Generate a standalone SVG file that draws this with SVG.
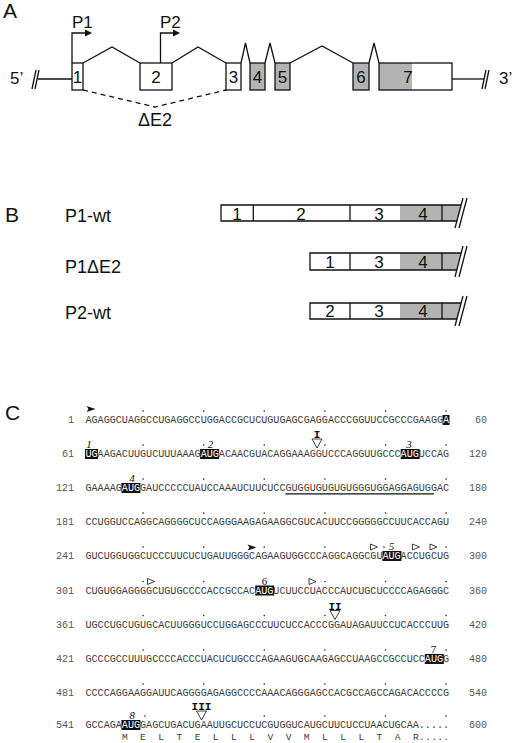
<svg xmlns="http://www.w3.org/2000/svg" width="520" height="743" viewBox="0 0 520 743">
<style>
.lbl{font-family:"Liberation Sans",Arial,sans-serif;fill:#111}
.pan{font-size:21px}
.ex{fill:#fff;stroke:#111;stroke-width:1.3}
.exg{fill:#b3b3b3;stroke:#111;stroke-width:1.3}
.ln{fill:none;stroke:#111;stroke-width:1.3}
.num{font-family:"Liberation Sans",Arial,sans-serif;font-size:17px;fill:#111;text-anchor:middle}
.seq{font-family:"Liberation Mono","Courier New",monospace;font-size:10.1px;fill:#3c3c3c}
.pos{font-family:"Liberation Mono","Courier New",monospace;font-size:10px;fill:#555;text-anchor:end}
.hl{fill:#fff}
.box{fill:#111}
.aug{font-family:"Liberation Serif","Times New Roman",serif;font-size:11px;font-style:italic;fill:#111;text-anchor:middle}
.aug2{font-family:"Liberation Serif","Times New Roman",serif;font-size:11px;fill:#111;text-anchor:middle}
.rom{font-family:"Liberation Mono","Courier New",monospace;font-size:11px;font-weight:bold;fill:#111;text-anchor:middle}
.dot{fill:#333}
.otri{fill:#fff;stroke:#111;stroke-width:0.8}
.ftri{fill:#111}
</style>
<defs>
<rect id="d" class="dot" x="-0.7" y="-0.7" width="1.4" height="1.4"/>
<polygon id="ot" class="otri" points="-3.5,-3 3.5,0 -3.5,3"/>
<polygon id="ft" class="ftri" points="-4.5,-3 4.5,0 -4.5,3 -2.5,0"/>
<polygon id="dt" class="otri" points="-5,0 5,0 0,9"/>
</defs>

<!-- Panel A -->
<text class="lbl pan" x="3" y="18">A</text>
<g id="connectors">
  <polyline class="ln" points="83,63 112,47 140,63"/>
  <polyline class="ln" points="172,63 198,47 226,63"/>
  <polyline class="ln" points="241,63 245.5,43 250,63"/>
  <polyline class="ln" points="265,63 270,43 275,63"/>
  <polyline class="ln" points="290,63 322,46 353,63"/>
  <polyline class="ln" points="369,63 374,43 379,63"/>
  <polyline class="ln" points="83,90 155,107 226,90" stroke-dasharray="5,4"/>
  <line class="ln" x1="38" y1="79" x2="72" y2="79"/>
  <line class="ln" x1="452" y1="79" x2="484" y2="79"/>
  <line class="ln" x1="32" y1="89" x2="36" y2="70"/>
  <line class="ln" x1="35" y1="89" x2="39" y2="70"/>
  <line class="ln" x1="482" y1="89" x2="486" y2="70"/>
  <line class="ln" x1="485" y1="89" x2="489" y2="70"/>
  <path class="ln" d="M72,63 V33 H86"/>
  <polygon points="85,29.5 92,33 85,36.5" fill="#111"/>
  <path class="ln" d="M160.5,63 V33 H174"/>
  <polygon points="173,29.5 180,33 173,36.5" fill="#111"/>
</g>
<text class="lbl" x="72" y="28" font-size="17">P1</text>
<text class="lbl" x="160" y="28" font-size="17">P2</text>
<text class="lbl" x="10" y="84" font-size="17">5’</text>
<text class="lbl" x="499" y="84" font-size="17">3’</text>
<text class="lbl" x="155" y="126" font-size="18" text-anchor="middle">ΔE2</text>
<g id="exon1"><rect class="ex" x="72" y="63" width="11" height="27"/><text class="num" x="77.5" y="83">1</text></g>
<g id="exon2"><rect class="ex" x="140" y="63" width="32" height="27"/><text class="num" x="156" y="83">2</text></g>
<g id="exon3"><rect class="ex" x="226" y="63" width="15" height="27"/><text class="num" x="233.5" y="83">3</text></g>
<g id="exon4"><rect class="exg" x="250" y="63" width="15" height="27"/><text class="num" x="257.5" y="83">4</text></g>
<g id="exon5"><rect class="exg" x="275" y="63" width="15" height="27"/><text class="num" x="282.5" y="83">5</text></g>
<g id="exon6"><rect class="exg" x="353" y="63" width="16" height="27"/><text class="num" x="361" y="83">6</text></g>
<g id="exon7"><rect x="379" y="63" width="33" height="27" fill="#b3b3b3"/><rect class="ln" x="379" y="63" width="73" height="27"/><text class="num" x="408" y="83">7</text></g>

<!-- Panel B -->
<text class="lbl pan" x="5" y="222">B</text>
<g id="p1wt">
  <text class="lbl" x="65" y="222" font-size="18">P1-wt</text>
  <polygon points="400,205 461,205 457,221 400,221" fill="#b3b3b3"/>
  <path class="ln" d="M461,205 H221 V221 H457"/>
  <line class="ln" x1="253.3" y1="205" x2="253.3" y2="221"/>
  <line class="ln" x1="350" y1="205" x2="350" y2="221"/>
  <line class="ln" x1="442" y1="205" x2="442" y2="221"/>
  <line class="ln" x1="463" y1="198" x2="455" y2="228"/>
  <line class="ln" x1="467" y1="198" x2="459" y2="228"/>
  <text class="num" x="237" y="220">1</text><text class="num" x="301" y="220">2</text><text class="num" x="379" y="220">3</text><text class="num" x="423" y="220">4</text>
</g>
<g id="p1de2">
  <text class="lbl" x="65" y="273" font-size="18">P1ΔE2</text>
  <polygon points="400,253 461,253 457,270 400,270" fill="#b3b3b3"/>
  <path class="ln" d="M461,253 H310 V270 H457"/>
  <line class="ln" x1="350" y1="253" x2="350" y2="270"/>
  <line class="ln" x1="442" y1="253" x2="442" y2="270"/>
  <line class="ln" x1="463" y1="246" x2="455" y2="277"/>
  <line class="ln" x1="467" y1="246" x2="459" y2="277"/>
  <text class="num" x="330" y="268">1</text><text class="num" x="379" y="268">3</text><text class="num" x="423" y="268">4</text>
</g>
<g id="p2wt">
  <text class="lbl" x="65" y="319" font-size="18">P2-wt</text>
  <polygon points="400,303 461,303 457,319 400,319" fill="#b3b3b3"/>
  <path class="ln" d="M461,303 H310 V319 H457"/>
  <line class="ln" x1="350" y1="303" x2="350" y2="319"/>
  <line class="ln" x1="442" y1="303" x2="442" y2="319"/>
  <line class="ln" x1="463" y1="296" x2="455" y2="326"/>
  <line class="ln" x1="467" y1="296" x2="459" y2="326"/>
  <text class="num" x="330" y="317">2</text><text class="num" x="379" y="317">3</text><text class="num" x="423" y="317">4</text>
</g>

<!-- Panel C -->
<text class="lbl pan" x="5" y="420">C</text>
<g id="sequence">
  <!-- AUG boxes -->
  <rect class="box" x="442.5" y="415" width="7" height="10"/>
  <rect class="box" x="85" y="449" width="13" height="10"/>
  <rect class="box" x="200.1" y="449" width="19" height="10"/>
  <rect class="box" x="400.7" y="449" width="19" height="10"/>
  <rect class="box" x="121.4" y="483" width="19" height="10"/>
  <rect class="box" x="382.4" y="551" width="19" height="10"/>
  <rect class="box" x="255.2" y="585.5" width="19" height="10"/>
  <rect class="box" x="424.8" y="654" width="19" height="10"/>
  <rect class="box" x="121.4" y="720" width="19" height="10"/>
  <line class="ln" stroke-width="1" x1="285.5" y1="493.8" x2="434" y2="493.8"/>

  <g class="pos">
    <text x="74" y="423">1</text><text x="74" y="457">61</text><text x="74" y="491">121</text><text x="74" y="525">181</text><text x="74" y="559">241</text>
    <text x="74" y="593.5">301</text><text x="74" y="627.5">361</text><text x="74" y="662">421</text><text x="74" y="696">481</text><text x="74" y="728">541</text>
    <text x="487" y="423">60</text><text x="487" y="457">120</text><text x="487" y="491">180</text><text x="487" y="525">240</text><text x="487" y="559">300</text>
    <text x="487" y="593.5">360</text><text x="487" y="627.5">420</text><text x="487" y="662">480</text><text x="487" y="696">540</text><text x="487" y="728">600</text>
  </g>
  <g class="seq">
    <text x="85.5" y="423" textLength="363.6" lengthAdjust="spacing">AGAGGCUAGGCCUGAGGCCUGGACCGCUCUGUGAGCGAGGACCCGGUUCCGCCCGAAGG<tspan class="hl">A</tspan></text>
    <text x="85.5" y="457" textLength="363.6" lengthAdjust="spacing"><tspan class="hl">UG</tspan>AAGACUUGUCUUUAAAG<tspan class="hl">AUG</tspan>ACAACGUACAGGAAAGGUCCCAGGUUGCCC<tspan class="hl">AUG</tspan>UCCAG</text>
    <text x="85.5" y="491" textLength="363.6" lengthAdjust="spacing">GAAAAG<tspan class="hl">AUG</tspan>GAUCCCCCUAUCCAAAUCUUCUCCGUGGUGUGUGUGGGUGGAGGAGUGGAC</text>
    <text x="85.5" y="525" textLength="363.6" lengthAdjust="spacing">CCUGGUCCAGGCAGGGGCUCCAGGGAAGAGAAGGCGUCACUUCCGGGGGCCUUCACCAGU</text>
    <text x="85.5" y="559" textLength="363.6" lengthAdjust="spacing">GUCUGGUGGCUCCCUUCUCUGAUUGGGCAGAAGUGGCCCAGGCAGGCGU<tspan class="hl">AUG</tspan>ACCUGCUG</text>
    <text x="85.5" y="593.5" textLength="363.6" lengthAdjust="spacing">CUGUGGAGGGGCUGUGCCCCACCGCCAC<tspan class="hl">AUG</tspan>UCUUCCUACCCAUCUGCUCCCCAGAGGGC</text>
    <text x="85.5" y="627.5" textLength="363.6" lengthAdjust="spacing">UGCCUGCUGUGCACUUGGGUCCUGGAGCCCUUCUCCACCCGGAUAGAUUCCUCACCCUUG</text>
    <text x="85.5" y="662" textLength="363.6" lengthAdjust="spacing">GCCCGCCUUUGCCCCACCCUACUCUGCCCAGAAGUGCAAGAGCCUAAGCCGCCUCC<tspan class="hl">AUG</tspan>G</text>
    <text x="85.5" y="696" textLength="363.6" lengthAdjust="spacing">CCCCAGGAAGGAUUCAGGGGAGAGGCCCCAAACAGGGAGCCACGCCAGCCAGACACCCCG</text>
    <text x="85.5" y="728" textLength="363.6" lengthAdjust="spacing">GCCAGA<tspan class="hl">AUG</tspan>GAGCUGACUGAAUUGCUCCUCGUGGUCAUGCUUCUCCUAACUGCAA.....</text>
    <text x="121.9" y="740" font-size="9.6" textLength="327.2" lengthAdjust="spacing" xml:space="preserve">M  E  L  T  E  L  L  L  V  V  M  L  L  L  T  A  R.....</text>
  </g>

  <!-- dots every 10 nt -->
  <g>
    <use href="#d" x="143.1" y="411"/><use href="#d" x="203.7" y="411"/><use href="#d" x="264.3" y="411"/><use href="#d" x="324.9" y="411"/><use href="#d" x="385.5" y="411"/><use href="#d" x="446.1" y="411"/>
    <use href="#d" x="143.1" y="445"/><use href="#d" x="203.7" y="445"/><use href="#d" x="264.3" y="445"/><use href="#d" x="324.9" y="445"/><use href="#d" x="385.5" y="445"/><use href="#d" x="446.1" y="445"/>
    <use href="#d" x="143.1" y="479"/><use href="#d" x="203.7" y="479"/><use href="#d" x="264.3" y="479"/><use href="#d" x="324.9" y="479"/><use href="#d" x="385.5" y="479"/><use href="#d" x="446.1" y="479"/>
    <use href="#d" x="143.1" y="513"/><use href="#d" x="203.7" y="513"/><use href="#d" x="264.3" y="513"/><use href="#d" x="324.9" y="513"/><use href="#d" x="385.5" y="513"/><use href="#d" x="446.1" y="513"/>
    <use href="#d" x="143.1" y="547"/><use href="#d" x="203.7" y="547"/><use href="#d" x="264.3" y="547"/><use href="#d" x="324.9" y="547"/><use href="#d" x="384" y="547"/><use href="#d" x="446.1" y="547"/>
    <use href="#d" x="143.1" y="581.5"/><use href="#d" x="203.7" y="581.5"/><use href="#d" x="324.9" y="581.5"/><use href="#d" x="385.5" y="581.5"/><use href="#d" x="446.1" y="581.5"/>
    <use href="#d" x="143.1" y="615.5"/><use href="#d" x="203.7" y="615.5"/><use href="#d" x="264.3" y="615.5"/><use href="#d" x="324.9" y="615.5"/><use href="#d" x="385.5" y="615.5"/><use href="#d" x="446.1" y="615.5"/>
    <use href="#d" x="143.1" y="650"/><use href="#d" x="203.7" y="650"/><use href="#d" x="264.3" y="650"/><use href="#d" x="324.9" y="650"/><use href="#d" x="385.5" y="650"/><use href="#d" x="446.1" y="650"/>
    <use href="#d" x="143.1" y="684"/><use href="#d" x="203.7" y="684"/><use href="#d" x="264.3" y="684"/><use href="#d" x="324.9" y="684"/><use href="#d" x="385.5" y="684"/><use href="#d" x="446.1" y="684"/>
    <use href="#d" x="145" y="716"/><use href="#d" x="264.3" y="716"/><use href="#d" x="324.9" y="716"/><use href="#d" x="385.5" y="716"/><use href="#d" x="446.1" y="716"/>
  </g>

  <!-- arrowheads and open triangles -->
  <use href="#ft" x="91" y="409"/>
  <use href="#ft" x="252" y="547.5"/>
  <use href="#ot" x="374" y="547"/>
  <use href="#ot" x="416" y="547"/>
  <use href="#ot" x="433.5" y="547"/>
  <use href="#ot" x="151" y="581.5"/>
  <use href="#ot" x="312.5" y="581.5"/>

  <!-- splice junctions -->
  <g id="junctionI"><text class="rom" x="317" y="438">I</text><use href="#dt" x="317" y="439"/></g>
  <g id="junctionII"><text class="rom" x="335" y="609.5">II</text><use href="#dt" x="335" y="610.5"/></g>
  <g id="junctionIII"><text class="rom" x="201.5" y="710">III</text><use href="#dt" x="201.5" y="711"/></g>

  <!-- AUG numbers -->
  <text class="aug" x="89" y="448">1</text>
  <text class="aug" x="210.5" y="448">2</text>
  <text class="aug" x="409" y="448">3</text>
  <text class="aug" x="132" y="482">4</text>
  <text class="aug" x="391.5" y="550">5</text>
  <text class="aug2" x="264.5" y="584.5">6</text>
  <text class="aug2" x="433.5" y="653">7</text>
  <text class="aug" x="132" y="719">8</text>
</g>
</svg>
